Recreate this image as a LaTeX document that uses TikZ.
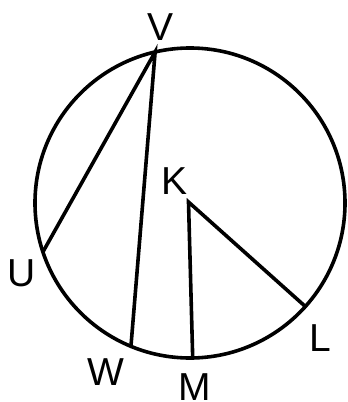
\documentclass[tikz,border=0pt]{standalone}
\usepackage{fontspec}
\setmainfont{Liberation Sans}
\usepackage{tikz}
\usetikzlibrary{calc}

\tikzset{
    rim/.style={draw=black, line width=3.6pt},
    chord/.style={draw=black, line width=3.6pt, line cap=round},
    ptlabel/.style={font=\fontsize{39}{39}\selectfont, inner sep=0pt, anchor=center}
}

\begin{document}
\begin{tikzpicture}[x=1pt, y=-1pt]
    \useasboundingbox (0,0) rectangle (348,402);
    % circle and its center
    \coordinate (O) at (190,203);
    \coordinate (K) at (188.5,202);
    \draw[rim] (O) circle[radius=155pt];
    % points on the circle
    \coordinate (V) at ($(O)+(103:155pt)$);
    \coordinate (U) at ($(O)+(198.4:155pt)$);
    \coordinate (W) at ($(O)+(247.6:155pt)$);
    \coordinate (M) at ($(O)+(271:155pt)$);
    \coordinate (L) at ($(O)+(318.1:155pt)$);
    % chords and radii
    \draw[chord] (U) -- (V) -- (W);
    \draw[chord] (M) -- (K) -- (L);
    % labels
    \node[ptlabel] (lV) at (160.7,27.5) {V};
    \node[ptlabel] (lK) at (175,181) {K};
    \node[ptlabel] (lU) at (21.7,273.3) {U};
    \node[ptlabel] (lW) at (106,371.7) {W};
    \node[ptlabel] (lM) at (195,387) {M};
    \node[ptlabel] (lL) at (320,338) {L};
\end{tikzpicture}
\end{document}
